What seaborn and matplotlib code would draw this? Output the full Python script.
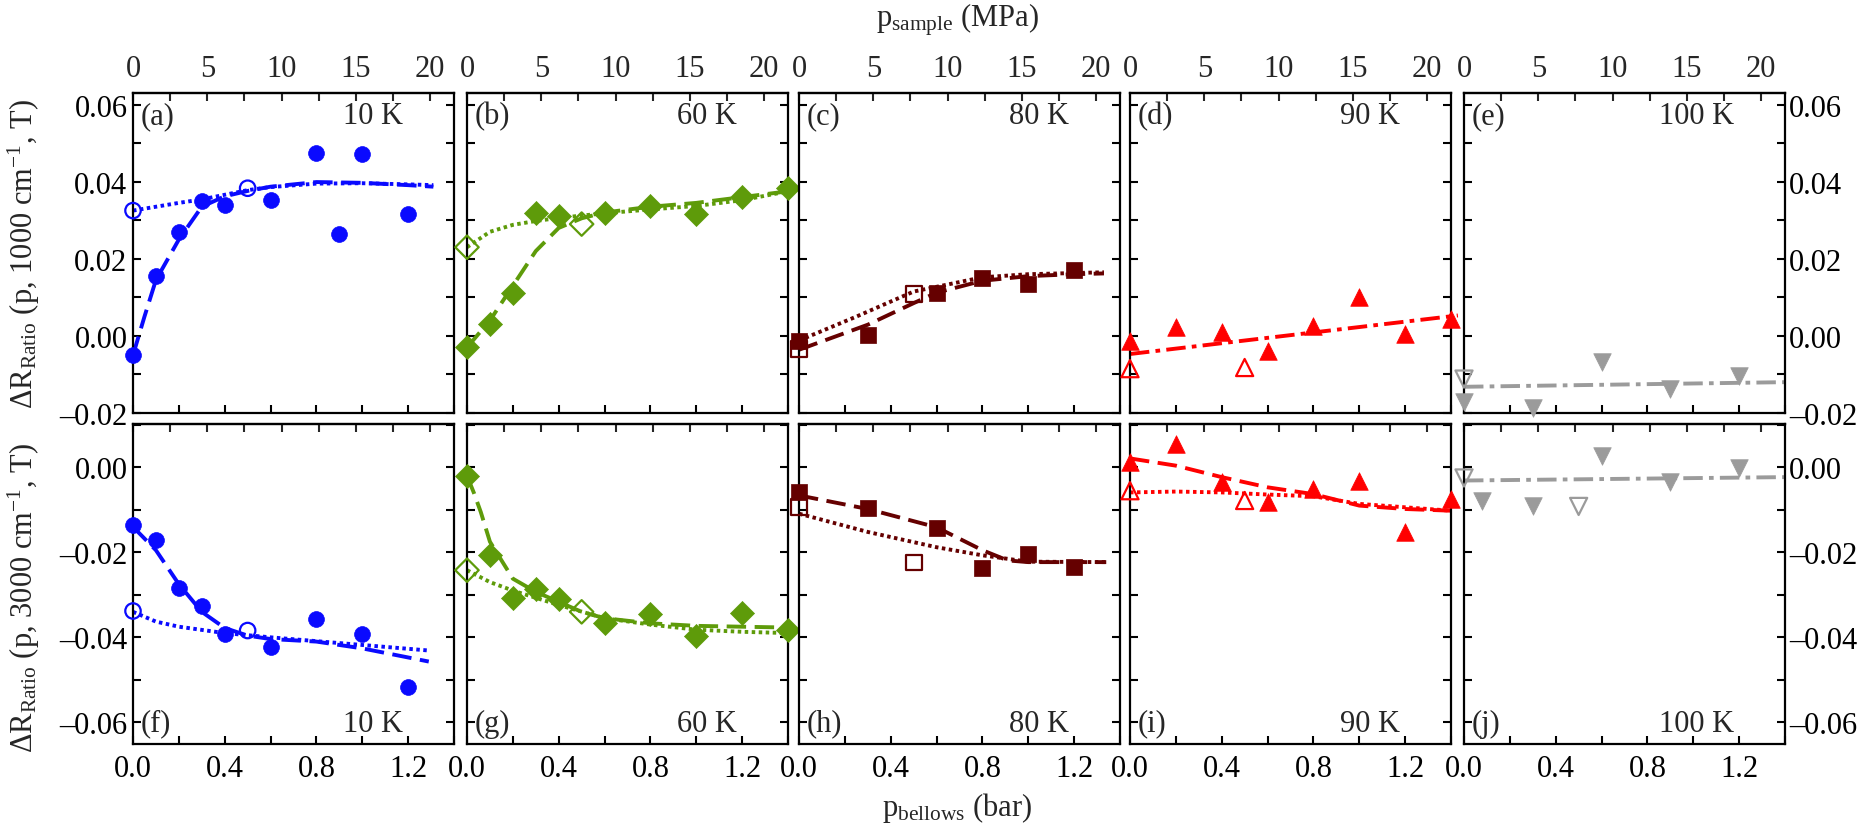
import numpy as np
import pandas as pd
import matplotlib
matplotlib.use("Agg")
import matplotlib.pyplot as plt
import seaborn as sns
from matplotlib.ticker import MultipleLocator, FuncFormatter

# ---------------- data ----------------
# bottom axis: p_bellows (bar); top axis: p_sample (MPa)
MPA_PER_BAR = 15.44

temps_top = ["10 K", "60 K", "80 K", "90 K", "100 K"]
letters_top = ["(a)", "(b)", "(c)", "(d)", "(e)"]
letters_bot = ["(f)", "(g)", "(h)", "(i)", "(j)"]

# ---- row 1: 1000 cm^-1 ----
a_fill_x = [0.0, 0.1, 0.2, 0.3, 0.4, 0.6, 0.8, 0.9, 1.0, 1.2]
a_fill_y = [-0.005, 0.0155, 0.027, 0.035, 0.034, 0.0352, 0.0475, 0.0263, 0.0471, 0.0315]
a_open_x = [0.0, 0.5]
a_open_y = [0.0325, 0.0383]
a_dash_x = [0.0, 0.05, 0.1, 0.2, 0.3, 0.4, 0.5, 0.6, 0.8, 1.0, 1.2, 1.31]
a_dash_y = [-0.005, 0.005, 0.0145, 0.025, 0.0335, 0.0362, 0.0376, 0.0387, 0.0399, 0.0397, 0.0391, 0.0387]
a_dot_x = [0.0, 0.1, 0.2, 0.3, 0.4, 0.5, 0.6, 0.8, 1.0, 1.2, 1.31]
a_dot_y = [0.0325, 0.0335, 0.0345, 0.0354, 0.0366, 0.0378, 0.0386, 0.0395, 0.0396, 0.0393, 0.0391]

b_fill_x = [0.0, 0.1, 0.2, 0.3, 0.4, 0.6, 0.8, 1.0, 1.2, 1.4]
b_fill_y = [-0.003, 0.003, 0.011, 0.032, 0.031, 0.0318, 0.0338, 0.0317, 0.0361, 0.0383]
b_open_x = [0.0, 0.5]
b_open_y = [0.023, 0.029]
b_dash_x = [0.0, 0.1, 0.2, 0.3, 0.4, 0.5, 0.6, 0.8, 1.0, 1.2, 1.4]
b_dash_y = [-0.003, 0.004, 0.013, 0.022, 0.028, 0.0305, 0.032, 0.0335, 0.0345, 0.036, 0.0375]
b_dot_x = [0.0, 0.1, 0.2, 0.3, 0.4, 0.6, 0.8, 1.0, 1.2, 1.4]
b_dot_y = [0.023, 0.027, 0.0288, 0.0298, 0.0306, 0.0318, 0.0328, 0.0337, 0.0352, 0.0375]

c_fill_x = [0.0, 0.3, 0.6, 0.8, 1.0, 1.2]
c_fill_y = [-0.0014, 0.0002, 0.011, 0.015, 0.0134, 0.017]
c_open_x = [0.0, 0.5]
c_open_y = [-0.0034, 0.0108]
c_dash_x = [0.0, 0.3, 0.5, 0.6, 0.8, 1.0, 1.2, 1.33]
c_dash_y = [-0.0036, 0.0029, 0.0085, 0.0112, 0.0143, 0.0155, 0.016, 0.0162]
c_dot_x = [0.0, 0.25, 0.5, 0.8, 1.0, 1.2, 1.33]
c_dot_y = [-0.0012, 0.005, 0.0115, 0.0152, 0.016, 0.0163, 0.0165]

d_fill_x = [0.0, 0.2, 0.4, 0.6, 0.8, 1.0, 1.2, 1.4]
d_fill_y = [-0.0013, 0.0022, 0.0011, -0.004, 0.0026, 0.0101, 0.0006, 0.0045]
d_open_x = [0.0, 0.5]
d_open_y = [-0.0085, -0.0082]
d_line_x = [0.0, 1.43]
d_line_y = [-0.0047, 0.0053]

e_fill_x = [0.0, 0.3, 0.6, 0.9, 1.2]
e_fill_y = [-0.0172, -0.0187, -0.0068, -0.0138, -0.0103]
e_open_x = [0.0]
e_open_y = [-0.0112]
e_line_x = [0.0, 1.4]
e_line_y = [-0.0132, -0.012]

# ---- row 2: 3000 cm^-1 ----
f_fill_x = [0.0, 0.1, 0.2, 0.3, 0.4, 0.6, 0.8, 1.0, 1.2]
f_fill_y = [-0.0135, -0.017, -0.0283, -0.0326, -0.0393, -0.0422, -0.0358, -0.0391, -0.0518]
f_open_x = [0.0, 0.5]
f_open_y = [-0.0338, -0.0384]
f_dash_x = [0.0, 0.1, 0.2, 0.3, 0.4, 0.5, 0.6, 0.8, 1.0, 1.29]
f_dash_y = [-0.014, -0.0195, -0.0275, -0.034, -0.0378, -0.0396, -0.0404, -0.041, -0.0426, -0.0457]
f_dot_x = [0.0, 0.1, 0.2, 0.4, 0.6, 0.8, 1.0, 1.29]
f_dot_y = [-0.034, -0.0363, -0.0375, -0.039, -0.040, -0.0409, -0.0418, -0.0431]

g_fill_x = [0.0, 0.1, 0.2, 0.3, 0.4, 0.6, 0.8, 1.0, 1.2, 1.4]
g_fill_y = [-0.0021, -0.0207, -0.0307, -0.0287, -0.0309, -0.0366, -0.0344, -0.0396, -0.0342, -0.0383]
g_open_x = [0.0, 0.5]
g_open_y = [-0.0242, -0.034]
g_dash_x = [0.0, 0.03, 0.06, 0.1, 0.2, 0.3, 0.5, 0.6, 0.8, 1.0, 1.2, 1.4]
g_dash_y = [-0.002, -0.006, -0.0105, -0.0175, -0.0262, -0.0293, -0.034, -0.0355, -0.0367, -0.0373, -0.0375, -0.0377]
g_dot_x = [0.0, 0.1, 0.2, 0.4, 0.6, 0.8, 1.0, 1.2, 1.4]
g_dot_y = [-0.0242, -0.027, -0.029, -0.0324, -0.0355, -0.037, -0.0382, -0.0387, -0.039]

h_fill_x = [0.0, 0.3, 0.6, 0.8, 1.0, 1.2]
h_fill_y = [-0.0057, -0.0096, -0.0143, -0.0237, -0.0205, -0.0234]
h_open_x = [0.0, 0.5]
h_open_y = [-0.0094, -0.0224]
h_dash_x = [0.0, 0.3, 0.6, 0.8, 0.91, 1.0, 1.34]
h_dash_y = [-0.0066, -0.0098, -0.0141, -0.0195, -0.0219, -0.0223, -0.0223]
h_dot_x = [0.0, 0.3, 0.6, 0.8, 1.0, 1.34]
h_dot_y = [-0.0109, -0.0152, -0.0188, -0.0207, -0.0222, -0.0223]

i_fill_x = [0.0, 0.2, 0.4, 0.6, 0.8, 1.0, 1.2, 1.4]
i_fill_y = [0.0012, 0.0055, -0.0034, -0.0082, -0.0051, -0.0031, -0.0151, -0.0074]
i_open_x = [0.0, 0.5]
i_open_y = [-0.0055, -0.0078]
i_dash_x = [0.0, 0.2, 0.4, 0.6, 0.8, 1.0, 1.2, 1.4]
i_dash_y = [0.0021, 0.0004, -0.0023, -0.0047, -0.0063, -0.009, -0.0098, -0.0102]
i_dot_x = [0.0, 0.2, 0.4, 0.6, 0.8, 1.0, 1.2, 1.4]
i_dot_y = [-0.0059, -0.0057, -0.0059, -0.0064, -0.0068, -0.0086, -0.0094, -0.0102]

j_fill_x = [0.08, 0.3, 0.6, 0.9, 1.2]
j_fill_y = [-0.008, -0.009, 0.0026, -0.0035, -0.0002]
j_open_x = [0.0, 0.5]
j_open_y = [-0.0025, -0.0092]
j_line_x = [0.0, 1.4]
j_line_y = [-0.0031, -0.0023]

# ---------------- style ----------------
colors = ["#0a0aff", "#5e9b0a", "#650000", "#ff0000", "#9b9b9b"]
markers = ["o", "D", "s", "^", "v"]
msizes = [130, 150, 135, 160, 160]

sns.set_theme(style="ticks")
plt.rcParams["font.family"] = ["Liberation Serif", "DejaVu Serif"]
plt.rcParams["mathtext.fontset"] = "custom"
plt.rcParams["mathtext.rm"] = "Liberation Serif"
plt.rcParams["mathtext.it"] = "Liberation Serif:italic"
plt.rcParams["mathtext.default"] = "rm"
plt.rcParams["axes.unicode_minus"] = True

FS = 22
W, H = 1860, 828
fig = plt.figure(figsize=(W / 100, H / 100), dpi=100)

lefts = [133, 467, 799, 1130, 1464]
pw, ph = 321, 320
tops = [94, 425]
ylims = [(-0.02, 0.063), (-0.0651, 0.0102)]

DASH = (0, (5, 2.2))
DOT = (0, (0.9, 0.9))
DASHDOT = (0, (5, 1.6, 1.2, 1.6))

top_panels = [
    (a_fill_x, a_fill_y, a_open_x, a_open_y, [(a_dash_x, a_dash_y, DASH), (a_dot_x, a_dot_y, DOT)]),
    (b_fill_x, b_fill_y, b_open_x, b_open_y, [(b_dash_x, b_dash_y, DASH), (b_dot_x, b_dot_y, DOT)]),
    (c_fill_x, c_fill_y, c_open_x, c_open_y, [(c_dash_x, c_dash_y, DASH), (c_dot_x, c_dot_y, DOT)]),
    (d_fill_x, d_fill_y, d_open_x, d_open_y, [(d_line_x, d_line_y, DASHDOT)]),
    (e_fill_x, e_fill_y, e_open_x, e_open_y, [(e_line_x, e_line_y, DASHDOT)]),
]
bot_panels = [
    (f_fill_x, f_fill_y, f_open_x, f_open_y, [(f_dash_x, f_dash_y, DASH), (f_dot_x, f_dot_y, DOT)]),
    (g_fill_x, g_fill_y, g_open_x, g_open_y, [(g_dash_x, g_dash_y, DASH), (g_dot_x, g_dot_y, DOT)]),
    (h_fill_x, h_fill_y, h_open_x, h_open_y, [(h_dash_x, h_dash_y, DASH), (h_dot_x, h_dot_y, DOT)]),
    (i_fill_x, i_fill_y, i_open_x, i_open_y, [(i_dash_x, i_dash_y, DASH), (i_dot_x, i_dot_y, DOT)]),
    (j_fill_x, j_fill_y, j_open_x, j_open_y, [(j_line_x, j_line_y, DASHDOT)]),
]


def yfmt(v, pos):
    s = f"{v:.2f}"
    if s.startswith("-"):
        s = "\u2013" + s[1:]
    if s == "\u20130.00":
        s = "0.00"
    return s


def to_mpa(x):
    return np.asarray(x) * MPA_PER_BAR


def to_bar(x):
    return np.asarray(x) / MPA_PER_BAR


for r, panels in enumerate([top_panels, bot_panels]):
    for c, (fx, fy, ox, oy, lines) in enumerate(panels):
        rect = [lefts[c] / W, 1 - (tops[r] + ph) / H, pw / W, ph / H]
        ax = fig.add_axes(rect)
        col = colors[c]
        for lx, ly, ls in lines:
            sns.lineplot(x=lx, y=ly, ax=ax, color=col, linestyle=ls, lw=2.8,
                         sort=False, estimator=None, clip_on=False, zorder=2)
        sns.scatterplot(x=fx, y=fy, ax=ax, marker=markers[c], s=msizes[c],
                        color=col, edgecolor=col, linewidth=0.5, clip_on=False, zorder=3)
        sns.scatterplot(x=ox, y=oy, ax=ax, marker=markers[c], s=msizes[c] * 0.95,
                        color=col, facecolor="none", edgecolor=col, linewidth=1.6,
                        clip_on=False, zorder=3)
        ax.set_xlim(0, 1.4)
        ax.set_ylim(*ylims[r])
        ax.set_xlabel("")
        ax.set_ylabel("")
        for sp in ax.spines.values():
            sp.set_linewidth(1.6)
            sp.set_color("black")
        ax.xaxis.set_major_locator(MultipleLocator(0.4))
        ax.xaxis.set_minor_locator(MultipleLocator(0.2))
        ax.xaxis.set_major_formatter(FuncFormatter(lambda v, p: f"{v:.1f}"))
        ax.yaxis.set_major_locator(MultipleLocator(0.02))
        ax.yaxis.set_minor_locator(MultipleLocator(0.01))
        ax.yaxis.set_major_formatter(FuncFormatter(yfmt))
        ax.tick_params(axis="both", which="both", direction="in", length=6, width=1.5,
                       color="black", labelsize=FS, labelcolor="black")
        ax.tick_params(axis="x", which="both", top=False, bottom=True,
                       labelbottom=(r == 1), pad=7)
        ax.tick_params(axis="y", which="both", left=True, right=True,
                       labelleft=(c == 0), labelright=(c == 4), pad=4)
        if c == 4:
            ax.tick_params(axis="y", which="major", pad=3)
        sec = ax.secondary_xaxis("top", functions=(to_mpa, to_bar))
        sec.set_xticks([0, 5, 10, 15, 20])
        sec.xaxis.set_minor_locator(MultipleLocator(2.5))
        sec.xaxis.set_major_formatter(FuncFormatter(lambda v, p: f"{v:.0f}"))
        sec.tick_params(axis="x", which="both", direction="in", length=6, width=1.5,
                        labelsize=FS, labeltop=(r == 0), pad=7)
        sec.spines["top"].set_linewidth(1.6)
        ax.grid(False)
        # panel annotations
        if r == 0:
            ax.text(0.025, 0.93, letters_top[c], transform=ax.transAxes, fontsize=FS,
                    ha="left", va="center")
            ax.text(0.84, 0.93, temps_top[c], transform=ax.transAxes, fontsize=FS,
                    ha="right", va="center")
        else:
            ax.text(0.025, 0.065, letters_bot[c], transform=ax.transAxes, fontsize=FS,
                    ha="left", va="center")
            ax.text(0.84, 0.065, temps_top[c], transform=ax.transAxes, fontsize=FS,
                    ha="right", va="center")

fig.text(957 / W, 1 - 20 / H, r"p$_{\rm sample}$ (MPa)", fontsize=FS, ha="center", va="center")
fig.text(957 / W, 1 - 808 / H, r"p$_{\rm bellows}$ (bar)", fontsize=FS, ha="center", va="center")
fig.text(24 / W, 1 - 254 / H, r"$\Delta$R$_{\rm Ratio}$ (p, 1000 cm$^{-1}$, T)",
         fontsize=FS, rotation=90, ha="center", va="center")
fig.text(24 / W, 1 - 598 / H, r"$\Delta$R$_{\rm Ratio}$ (p, 3000 cm$^{-1}$, T)",
         fontsize=FS, rotation=90, ha="center", va="center")

fig.savefig("out.png", dpi=100, facecolor="white")
